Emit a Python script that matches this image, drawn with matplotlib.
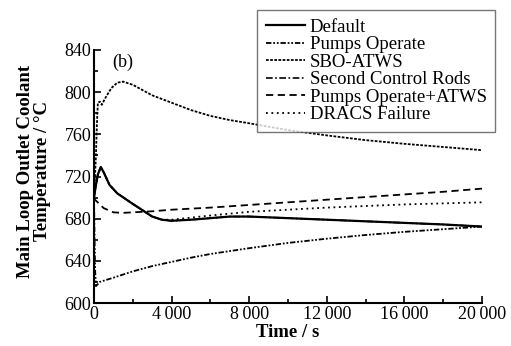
import matplotlib
matplotlib.use("Agg")
import matplotlib.pyplot as plt
from matplotlib.ticker import MultipleLocator, FuncFormatter

plt.rcParams["font.family"] = ["Liberation Serif", "DejaVu Serif"]

# Default
t_default = [0, 100, 200, 350, 500, 800, 1200, 1600, 2000, 2500, 3000, 3500, 4000,
             5000, 6000, 7000, 8000, 10000, 12000, 14000, 16000, 18000, 20000]
T_default = [700, 712, 722, 729, 724, 712, 704, 699, 694, 688, 682, 679, 678,
             679, 680.5, 682, 682, 680.5, 679, 677.5, 676, 674.5, 672.5]

# Pumps Operate
t_pumps = [0, 30, 60, 100, 300, 1000, 2000, 3000, 4000, 5000, 6000, 8000,
           10000, 12000, 14000, 16000, 18000, 20000]
T_pumps = [700, 660, 630, 616, 620, 624, 630, 635, 639, 643, 646.5, 652,
           657, 661, 664.5, 667.5, 670, 672.5]

# SBO-ATWS
t_sbo = [0, 100, 150, 200, 300, 400, 600, 900, 1200, 1500, 2000, 2500, 3000,
         4000, 5000, 6000, 7000, 8000, 10000, 12000, 14000, 16000, 18000, 20000]
T_sbo = [700, 740, 770, 790, 791, 788, 795, 804, 809, 810, 807, 802, 797,
         790, 783, 777.5, 773.5, 770.5, 764, 759, 754.5, 751, 748, 745]

# Second Control Rods (lies under Default)
t_rods = t_default
T_rods = T_default

# Pumps Operate+ATWS
t_patws = [0, 50, 500, 1000, 1500, 2000, 3000, 4000, 6000, 8000, 10000, 12000,
           14000, 16000, 18000, 20000]
T_patws = [700, 698, 690, 686, 685.5, 686, 687, 688.5, 690.5, 693, 695.5, 698,
           700.5, 703, 705.5, 708.5]

# DRACS Failure
t_dracs = [0, 100, 200, 350, 500, 800, 1200, 1600, 2000, 2500, 3000, 3500, 4000,
           5000, 6000, 8000, 10000, 12000, 14000, 16000, 18000, 20000]
T_dracs = [700, 712, 722, 729, 724, 712, 704, 699, 694, 688, 682, 679, 679,
           681, 683, 686.5, 688.5, 690.5, 692, 693.5, 694.5, 695.5]

fig = plt.figure(figsize=(5.11, 3.46), dpi=100)
ax = fig.add_axes([94 / 511, 43 / 346, 388 / 511, 253 / 346])

ax.plot(t_rods, T_rods, color="black", lw=1.2, ls=(0, (4, 1.5, 1, 1.5)),
        label="Second Control Rods", zorder=2)
ax.plot(t_default, T_default, color="black", lw=1.6, ls="-", label="Default", zorder=3)
ax.plot(t_pumps, T_pumps, color="black", lw=1.3, ls=(0, (3, 1, 1, 1, 1, 1)),
        label="Pumps Operate")
ax.plot(t_sbo, T_sbo, color="black", lw=1.3, ls=(0, (1.5, 0.8)), label="SBO-ATWS")
ax.plot(t_patws, T_patws, color="black", lw=1.3, ls=(0, (4, 2.5)),
        label="Pumps Operate+ATWS")
ax.plot(t_dracs, T_dracs, color="black", lw=1.3, ls=(0, (1, 2)), label="DRACS Failure")

ax.set_xlim(0, 20000)
ax.set_ylim(600, 840)
ax.xaxis.set_major_locator(MultipleLocator(4000))
ax.xaxis.set_minor_locator(MultipleLocator(2000))
ax.yaxis.set_major_locator(MultipleLocator(40))
ax.yaxis.set_minor_locator(MultipleLocator(20))
ax.xaxis.set_major_formatter(FuncFormatter(
    lambda v, p: f"{int(v):,}".replace(",", "\u2009")))

for s in ["top", "right"]:
    ax.spines[s].set_visible(False)
for s in ["left", "bottom"]:
    ax.spines[s].set_linewidth(1.5)
ax.tick_params(which="both", direction="in", width=1.2, labelsize=13, pad=2)
ax.tick_params(which="major", length=5)
ax.tick_params(which="minor", length=3)

ax.set_xlabel("Time / s", fontsize=13.5, fontweight="bold", labelpad=1)
ax.set_ylabel("Main Loop Outlet Coolant\nTemperature / \u00b0C", fontsize=13.5,
              fontweight="bold", linespacing=1.05)
ax.yaxis.set_label_coords(-0.11, 0.52)
ax.text(1500, 828, "(b)", fontsize=13, ha="center", va="center")

order = ["Default", "Pumps Operate", "SBO-ATWS", "Second Control Rods",
         "Pumps Operate+ATWS", "DRACS Failure"]
handles, labels = ax.get_legend_handles_labels()
hmap = dict(zip(labels, handles))
leg = ax.legend([hmap[k] for k in order], order, loc="upper right",
                bbox_to_anchor=(495 / 511, 336 / 346), bbox_transform=fig.transFigure,
                fontsize=13.5, frameon=True, fancybox=False, edgecolor="#555555",
                labelspacing=0.02, handlelength=2.1, handletextpad=0.25,
                borderpad=0.45, borderaxespad=0)
leg.get_frame().set_linewidth(1.0)

fig.savefig("out.png", dpi=100)
